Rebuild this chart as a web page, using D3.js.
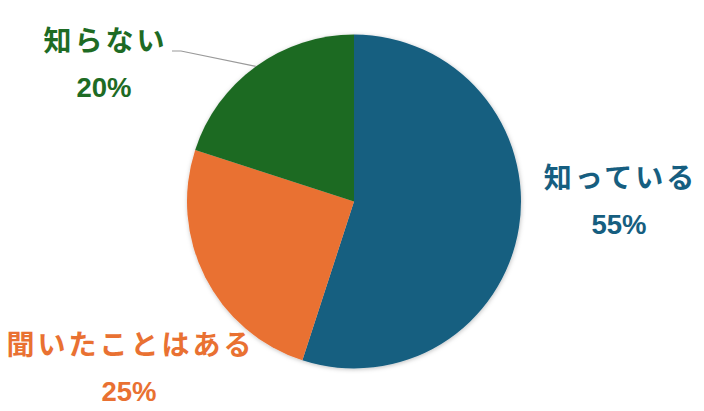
<!DOCTYPE html>
<html><head><meta charset="utf-8">
<script src="https://cdn.jsdelivr.net/npm/d3@7"></script>
<style>
html,body{margin:0;padding:0;background:#fff;}
svg{display:block;}
</style>
</head><body>
<svg id="chart" width="704" height="411"></svg>
<script>
const categories = ["知っている", "聞いたことはある", "知らない"];
const values = [55, 25, 20];
const percentLabels = ["55%", "25%", "20%"];
const colors = ["#165E80", "#E97132", "#1E6B24"];

const W = 704, H = 411;
const cx = 354, cy = 201.5, R = 167;
const svg = d3.select("#chart");

const defs = svg.append("defs");
const f = defs.append("filter").attr("id","sh").attr("x","-10%").attr("y","-10%").attr("width","120%").attr("height","120%");
f.append("feDropShadow").attr("dx",0.5).attr("dy",1).attr("stdDeviation",2).attr("flood-color","#000").attr("flood-opacity",0.25);

const pie = d3.pie().sort(null).value(d => d)(values);
const arc = d3.arc().innerRadius(0).outerRadius(R);
const g = svg.append("g").attr("transform", `translate(${cx},${cy})`);
g.append("g").attr("filter","url(#sh)").selectAll("path").data(pie).join("path")
  .attr("d", arc).attr("fill", (d,i) => colors[i]);

// label placement (layout only)
const place = [
  {x: 619, ny: 176, py: 234},
  {x: 129, ny: 343, py: 401},
  {x: 104, ny: 38.5, py: 97}
];
const sp = 3;
place.forEach((p,i) => {
  svg.append("text").attr("x", p.x + sp/2).attr("y", p.ny)
    .attr("text-anchor","middle").attr("dominant-baseline","central")
    .attr("font-family","'Noto Sans CJK JP', 'Noto Sans', sans-serif")
    .attr("font-weight","bold").attr("font-size",28).attr("letter-spacing", sp)
    .attr("fill", colors[i]).text(categories[i]);
  svg.append("text").attr("x", p.x).attr("y", p.py)
    .attr("text-anchor","middle")
    .attr("font-family","'Liberation Sans', Arial, sans-serif")
    .attr("font-weight","bold").attr("font-size",27.5)
    .attr("fill", colors[i]).text(percentLabels[i]);
});

// leader line for the small slice
const d = pie[2];
const mid = (d.startAngle + d.endAngle)/2;
const ex = cx + Math.sin(mid)*R, ey = cy - Math.cos(mid)*R;
svg.append("polyline")
  .attr("points", `${ex},${ey} 181,51 172,51`)
  .attr("fill","none").attr("stroke","#9a9a9a").attr("stroke-width",1.2);
</script>
</body></html>
